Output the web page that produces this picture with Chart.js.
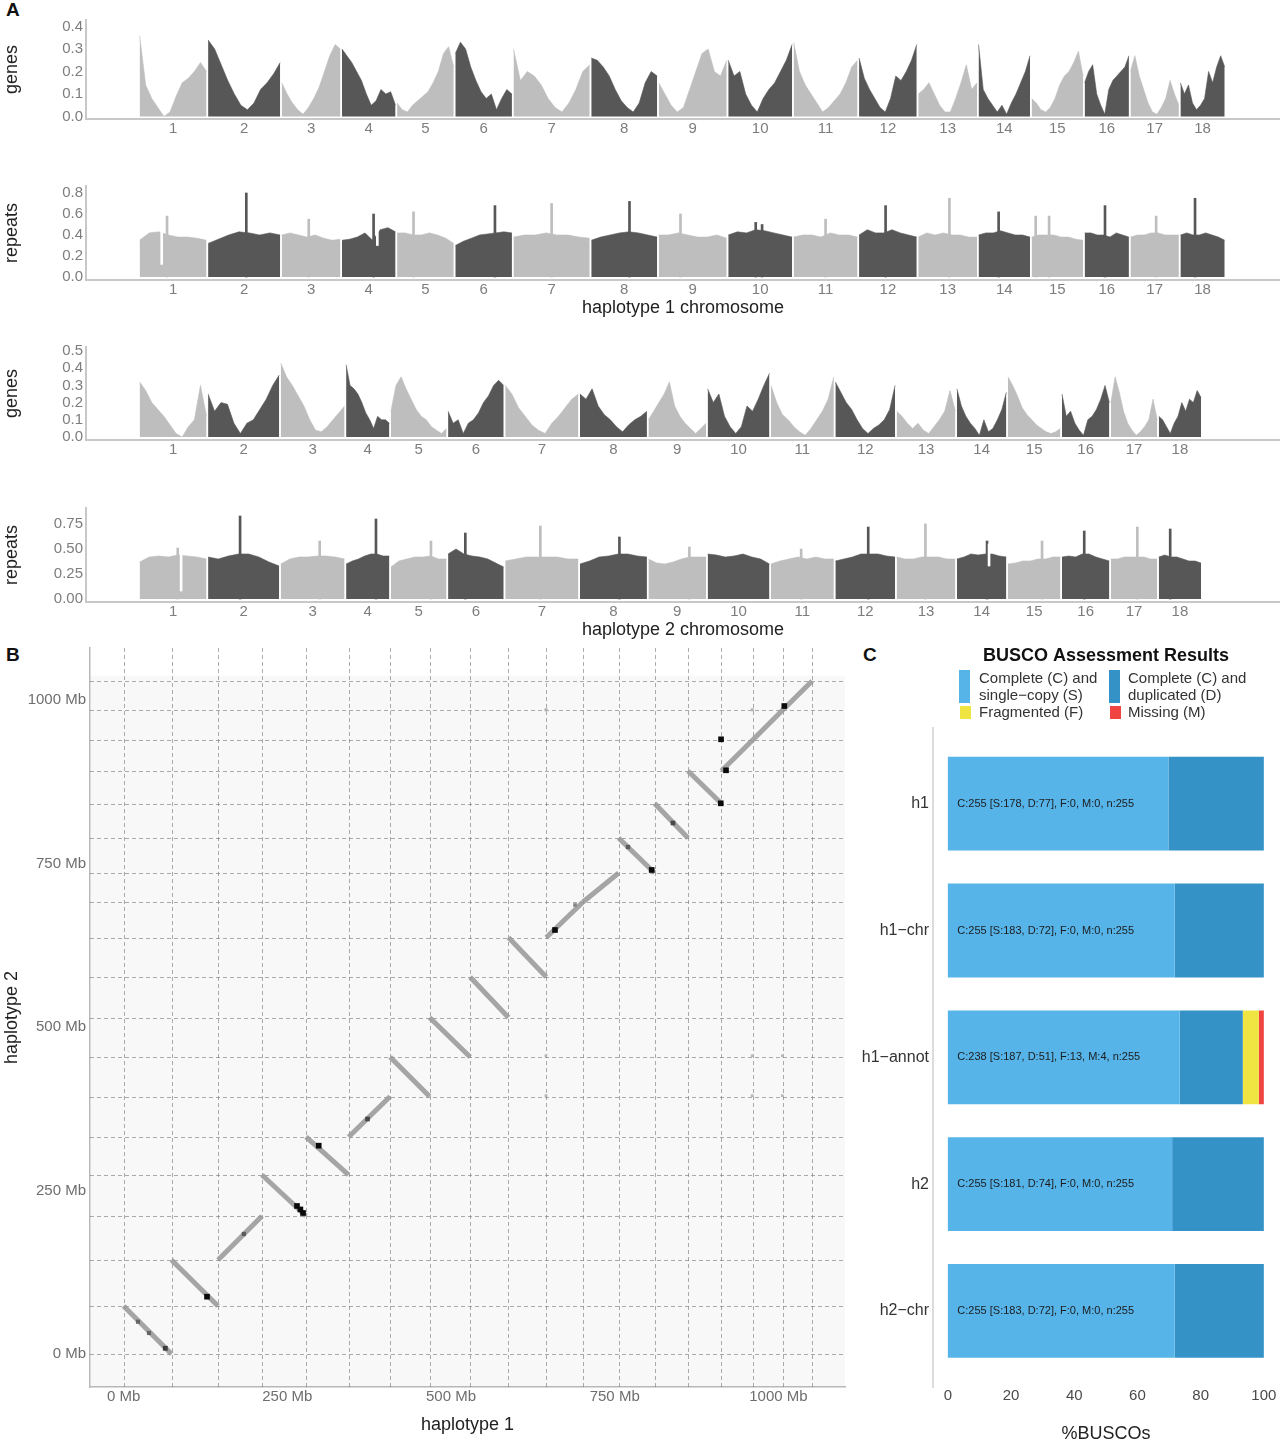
<!DOCTYPE html>
<html>
<head>
<meta charset="utf-8">
<title>Haplotype genome figure</title>
<script src="https://cdn.jsdelivr.net/npm/chart.js@4.4.1/dist/chart.umd.min.js"></script>
<style>
  html, body { margin:0; padding:0; background:#ffffff; }
  body { position:relative; width:1280px; height:1442px; overflow:hidden; font-family:"Liberation Sans", Arial, Helvetica, sans-serif; }
  canvas { position:absolute; }
  .plabel { position:absolute; font-weight:bold; font-size:19px; color:#111; line-height:19px; }
  .lg { position:absolute; font-size:15px; line-height:17px; color:#333; white-space:nowrap; }
  .key { position:absolute; }
</style>
</head>
<body>
<div class="plabel" style="left:6px;top:0px">A</div>
<div class="plabel" style="left:6px;top:645px">B</div>
<div class="plabel" style="left:863px;top:645px">C</div>

<canvas id="t1" width="1280" height="137" style="left:0;top:6px"></canvas>
<canvas id="t2" width="1280" height="152" style="left:0;top:172px"></canvas>
<canvas id="t3" width="1280" height="131" style="left:0;top:333px"></canvas>
<canvas id="t4" width="1280" height="152" style="left:0;top:494px"></canvas>
<canvas id="dot" width="850" height="808" style="left:0;top:634px"></canvas>
<canvas id="busco" width="430" height="810" style="left:850px;top:640px"></canvas>

<div class="key" style="left:959px;top:670px;width:11px;height:33px;background:#56B4E9"></div>
<div class="lg" style="left:979px;top:669px">Complete (C) and<br>single−copy (S)</div>
<div class="key" style="left:1109px;top:670px;width:11px;height:33px;background:#3492C7"></div>
<div class="lg" style="left:1128px;top:669px">Complete (C) and<br>duplicated (D)</div>
<div class="key" style="left:960px;top:706px;width:11px;height:13px;background:#F0E442"></div>
<div class="lg" style="left:979px;top:703px">Fragmented (F)</div>
<div class="key" style="left:1110px;top:706px;width:11px;height:13px;background:#F04442"></div>
<div class="lg" style="left:1128px;top:703px">Missing (M)</div>

<script>
// ===================== DATA =====================
const chromNames = ['1','2','3','4','5','6','7','8','9','10','11','12','13','14','15','16','17','18'];

// chromosome lengths (Mb) as laid out in panel A
const h1ChromLen = [65,70,57,52,55,55,74,64,66,62,62,56,57,50,50,43,47,43];
const h2ChromLen = [65,69,62,42,54,54,71,65,56,60,61,58,57,48,51,46,45,41];

// gene density, haplotype 1 (evenly spaced windows along each chromosome)
const genesH1 = [
  [0.36,0.14,0.08,0.04,0.00,0.02,0.09,0.15,0.17,0.20,0.24,0.20],
  [0.34,0.30,0.23,0.16,0.10,0.05,0.03,0.06,0.12,0.15,0.19,0.24],
  [0.15,0.10,0.06,0.03,0.01,0.04,0.08,0.13,0.20,0.27,0.32,0.30],
  [0.30,0.27,0.24,0.20,0.16,0.10,0.05,0.07,0.12,0.10,0.11,0.05],
  [0.06,0.03,0.02,0.05,0.07,0.09,0.11,0.15,0.20,0.28,0.31,0.22],
  [0.28,0.33,0.30,0.22,0.16,0.11,0.08,0.10,0.03,0.08,0.12,0.10],
  [0.30,0.16,0.20,0.18,0.14,0.08,0.04,0.02,0.06,0.12,0.20,0.23],
  [0.26,0.25,0.22,0.18,0.12,0.07,0.04,0.02,0.06,0.15,0.20,0.18],
  [0.15,0.10,0.05,0.02,0.04,0.12,0.20,0.28,0.30,0.20,0.18,0.25],
  [0.25,0.18,0.20,0.10,0.05,0.02,0.08,0.12,0.15,0.20,0.25,0.32],
  [0.33,0.20,0.14,0.10,0.06,0.02,0.04,0.07,0.10,0.15,0.22,0.25],
  [0.26,0.17,0.12,0.08,0.04,0.02,0.08,0.18,0.16,0.20,0.25,0.32],
  [0.10,0.12,0.15,0.10,0.05,0.02,0.02,0.08,0.15,0.23,0.12,0.15],
  [0.32,0.12,0.08,0.05,0.02,0.05,0.01,0.06,0.10,0.15,0.20,0.27],
  [0.08,0.06,0.03,0.02,0.04,0.08,0.14,0.18,0.20,0.24,0.29,0.18],
  [0.15,0.20,0.23,0.10,0.05,0.01,0.12,0.16,0.18,0.20,0.22,0.27],
  [0.20,0.27,0.18,0.12,0.06,0.02,0.01,0.04,0.08,0.16,0.10,0.05],
  [0.15,0.10,0.14,0.06,0.03,0.05,0.08,0.20,0.15,0.22,0.27,0.22]
];

// gene density, haplotype 2
const genesH2 = [
  [0.32,0.27,0.20,0.16,0.12,0.07,0.02,0.00,0.06,0.10,0.30,0.12],
  [0.25,0.15,0.20,0.19,0.08,0.02,0.08,0.10,0.16,0.22,0.30,0.36],
  [0.43,0.35,0.30,0.24,0.18,0.10,0.04,0.03,0.06,0.10,0.14,0.18],
  [0.42,0.30,0.28,0.25,0.20,0.14,0.10,0.05,0.12,0.10,0.10,0.08],
  [0.15,0.30,0.35,0.28,0.22,0.16,0.12,0.10,0.06,0.04,0.02,0.05],
  [0.15,0.08,0.10,0.02,0.08,0.10,0.14,0.20,0.24,0.30,0.33,0.30],
  [0.30,0.25,0.17,0.12,0.07,0.04,0.02,0.08,0.12,0.17,0.22,0.25],
  [0.25,0.22,0.28,0.18,0.13,0.10,0.06,0.03,0.07,0.10,0.12,0.15],
  [0.10,0.15,0.20,0.25,0.32,0.18,0.12,0.08,0.05,0.02,0.05,0.08],
  [0.28,0.20,0.25,0.12,0.06,0.02,0.06,0.18,0.15,0.22,0.30,0.37],
  [0.30,0.20,0.13,0.10,0.06,0.03,0.01,0.05,0.10,0.15,0.22,0.35],
  [0.32,0.26,0.20,0.16,0.10,0.05,0.02,0.05,0.07,0.10,0.16,0.30],
  [0.15,0.12,0.08,0.05,0.08,0.04,0.02,0.06,0.10,0.15,0.27,0.15],
  [0.28,0.18,0.12,0.08,0.05,0.01,0.10,0.03,0.05,0.10,0.16,0.26],
  [0.35,0.30,0.24,0.17,0.13,0.10,0.07,0.05,0.03,0.02,0.03,0.05],
  [0.25,0.12,0.15,0.08,0.04,0.01,0.10,0.12,0.16,0.22,0.30,0.20],
  [0.20,0.35,0.26,0.15,0.08,0.04,0.01,0.03,0.06,0.10,0.22,0.10],
  [0.12,0.10,0.06,0.02,0.08,0.12,0.20,0.15,0.22,0.20,0.27,0.23]
];

// repeat density, haplotype 1 (background level)
const repeatsH1 = [
  [0.35,0.42,0.43,0.40,0.38,0.38,0.37,0.35],
  [0.32,0.36,0.40,0.43,0.42,0.40,0.42,0.40],
  [0.40,0.42,0.40,0.38,0.40,0.37,0.35,0.36],
  [0.35,0.36,0.38,0.42,0.35,0.45,0.47,0.43],
  [0.42,0.42,0.40,0.40,0.42,0.40,0.37,0.32],
  [0.30,0.34,0.37,0.40,0.41,0.42,0.43,0.42],
  [0.38,0.40,0.40,0.42,0.40,0.40,0.38,0.37],
  [0.35,0.38,0.40,0.42,0.43,0.42,0.40,0.38],
  [0.40,0.40,0.42,0.40,0.38,0.38,0.40,0.37],
  [0.40,0.43,0.42,0.45,0.44,0.42,0.40,0.38],
  [0.38,0.40,0.40,0.38,0.42,0.40,0.40,0.38],
  [0.40,0.45,0.42,0.42,0.45,0.42,0.40,0.38],
  [0.38,0.42,0.40,0.42,0.40,0.40,0.38,0.38],
  [0.40,0.42,0.42,0.44,0.42,0.40,0.40,0.38],
  [0.38,0.40,0.40,0.40,0.38,0.38,0.36,0.35],
  [0.42,0.42,0.40,0.40,0.38,0.42,0.40,0.38],
  [0.38,0.40,0.40,0.42,0.42,0.40,0.40,0.40],
  [0.40,0.42,0.40,0.40,0.42,0.40,0.38,0.35]
];
// repeat peaks: [chromosome index, relative position, value]
const repeatPeaksH1 = [[0,0.41,0.58],[1,0.53,0.80],[2,0.46,0.55],[3,0.59,0.60],[4,0.29,0.62],[5,0.70,0.68],[6,0.50,0.70],[7,0.58,0.72],[8,0.32,0.60],[9,0.43,0.52],[9,0.53,0.50],[10,0.50,0.55],[11,0.46,0.68],[12,0.53,0.75],[13,0.39,0.62],[14,0.08,0.58],[14,0.34,0.58],[15,0.46,0.68],[16,0.53,0.58],[17,0.33,0.75]];
// repeat troughs: [chromosome index, relative position, value]
const repeatTroughsH1 = [[0,0.33,0.12],[3,0.66,0.30]];

// repeat density, haplotype 2 (background level)
const repeatsH2 = [
  [0.37,0.42,0.43,0.42,0.44,0.43,0.42,0.40],
  [0.42,0.40,0.43,0.45,0.45,0.42,0.37,0.33],
  [0.35,0.40,0.42,0.42,0.43,0.43,0.42,0.40],
  [0.35,0.38,0.40,0.43,0.45,0.45,0.43,0.43],
  [0.32,0.38,0.40,0.42,0.42,0.43,0.40,0.40],
  [0.45,0.50,0.45,0.43,0.42,0.40,0.36,0.32],
  [0.38,0.40,0.42,0.42,0.42,0.42,0.40,0.40],
  [0.35,0.38,0.42,0.43,0.45,0.45,0.43,0.42],
  [0.40,0.36,0.35,0.37,0.40,0.42,0.42,0.42],
  [0.45,0.44,0.42,0.43,0.45,0.42,0.40,0.35],
  [0.35,0.38,0.40,0.42,0.40,0.42,0.40,0.40],
  [0.38,0.40,0.42,0.45,0.45,0.45,0.43,0.42],
  [0.42,0.40,0.40,0.42,0.42,0.42,0.40,0.40],
  [0.40,0.42,0.45,0.44,0.45,0.45,0.43,0.42],
  [0.35,0.36,0.38,0.38,0.40,0.40,0.42,0.42],
  [0.42,0.43,0.42,0.45,0.45,0.42,0.40,0.38],
  [0.40,0.40,0.42,0.42,0.42,0.42,0.40,0.40],
  [0.42,0.44,0.42,0.42,0.40,0.38,0.38,0.36]
];
const repeatPeaksH2 = [[0,0.57,0.51],[1,0.45,0.83],[2,0.61,0.58],[3,0.69,0.80],[4,0.72,0.58],[5,0.31,0.66],[6,0.48,0.73],[7,0.59,0.62],[8,0.71,0.52],[10,0.48,0.50],[11,0.55,0.72],[12,0.49,0.75],[13,0.61,0.58],[14,0.65,0.58],[15,0.47,0.68],[16,0.57,0.72],[17,0.27,0.70]];
const repeatTroughsH2 = [[0,0.62,0.08],[13,0.65,0.33]];

// y tick values of the four density tracks
const ticksGenesH1 = [0,0.1,0.2,0.3,0.4];
const ticksRepeatsH1 = [0,0.2,0.4,0.6,0.8];
const ticksGenesH2 = [0,0.1,0.2,0.3,0.4,0.5];
const ticksRepeatsH2 = [0,0.25,0.5,0.75];

// dot plot: chromosome lengths (Mb) and alignment orientation
const dotH1Len = [73.2,71,67.2,67.2,65,63.4,60.3,61.9,58.6,57.7,56.1,54.4,55,51,50.9,47.8,45.9,44.9];
const dotH2Len = [73.4,70.3,67.3,62.7,58.1,61.9,60.4,60.4,61.9,60.4,54.3,44.3,53.5,52.8,49.7,47.4,45.9,44.3];
const dotOrient = [-1,-1,1,-1,-1,1,-1,-1,-1,-1,1,1,-1,-1,-1,1,1,1];
// dense alignment spots: [h1 Mb, h2 Mb, intensity 0..1]
const dotSpots = [
  [22.0,49.4,0.55],[38.8,32.1,0.55],[63.7,8.7,0.75],[127.4,87.6,1],[183.7,183.5,0.6],
  [264.8,226.3,1],[270,221,1],[274.0,215.6,1],[298.0,318.5,1],[372.5,359.3,0.7],
  [658.8,648.3,1],[689.4,686.5,0.4],[770.3,775.2,0.6],[806.5,740.1,1],[839.0,811.9,0.7],
  [912.0,842.0,1],[920.0,892.5,1],[912.4,939.9,1],[1009.0,990.8,1],
  [645,985,0.2],[960,985,0.2],[645,456,0.15],[645,395,0.15],[960,456,0.15],[960,395,0.15],[1006,456,0.15],[1006,395,0.15]
];
const dotTicks = [0,250,500,750,1000];

// BUSCO
const buscoLabels = ['h1','h1−chr','h1−annot','h2','h2−chr'];
const buscoS = [178,183,187,181,183];
const buscoD = [77,72,51,74,72];
const buscoF = [0,0,13,0,0];
const buscoM = [0,0,4,0,0];
const buscoN = [255,255,255,255,255];
const buscoXTicks = [0,20,40,60,80,100];

// ===================== DRAWING =====================
Chart.defaults.font.family = '"Liberation Sans", Arial, Helvetica, sans-serif';
Chart.defaults.animation = false;

const LIGHT = '#bebebe', DARK = '#575757';
const CHROM_GAP = 1.5;
const X_MIN = -52.04, X_MAX = 1107.18;

function trackChart(id, o) {
  const lens = o.lens;
  const starts = [];
  let acc = 0;
  lens.forEach(L => { starts.push(acc); acc += L + CHROM_GAP; });
  const colorOf = i => (i % 2 === 0 ? LIGHT : DARK);
  const datasets = o.values.map((vals, i) => ({
    type: 'line',
    data: vals.map((v, j) => ({ x: starts[i] + lens[i] * j / (vals.length - 1), y: v })),
    fill: 'origin', backgroundColor: colorOf(i), borderColor: colorOf(i), borderWidth: 0.6,
    pointRadius: 0, tension: 0, order: 3
  }));
  if (o.peaks) {
    datasets.push({
      type: 'bar', grouped: false,
      data: o.peaks.map(s => ({ x: starts[s[0]] + lens[s[0]] * s[1], y: s[2] })),
      backgroundColor: o.peaks.map(s => colorOf(s[0])),
      barThickness: 2, order: 2
    });
  }
  if (o.troughs) {
    datasets.push({
      type: 'bar', grouped: false,
      data: o.troughs.map(s => ({ x: starts[s[0]] + lens[s[0]] * s[1], y: [s[2], 0.55] })),
      backgroundColor: '#ffffff',
      barThickness: 2, order: 1
    });
  }
  return new Chart(document.getElementById(id), {
    type: 'line',
    data: { datasets },
    options: {
      responsive: false, animation: false, devicePixelRatio: 1, events: [],
      layout: { padding: { top: 14, left: 0, right: 0, bottom: 0 } },
      plugins: { legend: { display: false }, tooltip: { enabled: false } },
      scales: {
        x: {
          type: 'linear', min: X_MIN, max: X_MAX, offset: false,
          afterBuildTicks: s => { s.ticks = lens.map((L, i) => ({ value: starts[i] + L / 2 })); },
          ticks: { autoSkip: false, maxRotation: 0, padding: 1, color: '#7d7d7d', font: { size: 15 },
                   callback: (v, i) => chromNames[i] },
          grid: { display: false, drawTicks: false },
          border: { display: true, color: '#c8c8c8', width: 2 },
          title: { display: !!o.xTitle, text: o.xTitle || '', color: '#222', font: { size: 18 }, padding: { top: 0, bottom: 5 } },
          afterFit: s => { s.height = o.xh; }
        },
        y: {
          type: 'linear', min: o.ymin, max: o.ymax,
          afterBuildTicks: s => { s.ticks = o.yTicks.map(v => ({ value: v })); },
          ticks: { autoSkip: false, padding: 3, color: '#7d7d7d', font: { size: 15 }, callback: v => v.toFixed(o.dec) },
          grid: { display: false, drawTicks: false },
          border: { display: true, color: '#c8c8c8', width: 2 },
          title: { display: true, text: o.yTitle, color: '#222', font: { size: 18 }, padding: { top: 1, bottom: 0 } },
          afterFit: s => { s.width = 86; }
        }
      }
    }
  });
}

trackChart('t1', { lens: h1ChromLen, values: genesH1, yTicks: ticksGenesH1, dec: 1, ymin: -0.0111, ymax: 0.4289, yTitle: 'genes', xh: 24 });
trackChart('t2', { lens: h1ChromLen, values: repeatsH1, peaks: repeatPeaksH1, troughs: repeatTroughsH1, yTicks: ticksRepeatsH1, dec: 1, ymin: -0.0286, ymax: 0.8667, yTitle: 'repeats', xh: 44, xTitle: 'haplotype 1 chromosome' });
trackChart('t3', { lens: h2ChromLen, values: genesH2, yTicks: ticksGenesH2, dec: 1, ymin: -0.0174, ymax: 0.5233, yTitle: 'genes', xh: 24 });
trackChart('t4', { lens: h2ChromLen, values: repeatsH2, peaks: repeatPeaksH2, troughs: repeatTroughsH2, yTicks: ticksRepeatsH2, dec: 2, ymin: -0.03, ymax: 0.91, yTitle: 'repeats', xh: 44, xTitle: 'haplotype 2 chromosome' });

// ---------- Panel B: dot plot ----------
(function () {
  const cum = arr => { const out = [0]; arr.forEach(v => out.push(out[out.length - 1] + v)); return out; };
  const bx = cum(dotH1Len), by = cum(dotH2Len);
  const datasets = dotH1Len.map((L, i) => {
    const x0 = bx[i], x1 = bx[i + 1], y0 = by[i], y1 = by[i + 1];
    const pts = dotOrient[i] > 0 ? [{ x: x0, y: y0 }, { x: x1, y: y1 }] : [{ x: x0, y: y1 }, { x: x1, y: y0 }];
    return { type: 'line', data: pts, showLine: true, borderColor: 'rgba(150,150,150,0.85)', borderWidth: 5,
             borderCapStyle: 'butt', pointRadius: 0, fill: false, order: 2 };
  });
  const shade = t => { const g = Math.round(215 - 205 * t); return `rgb(${g},${g},${g})`; };
  datasets.push({
    type: 'scatter',
    data: dotSpots.map(s => ({ x: s[0], y: s[1] })),
    pointStyle: 'rect',
    pointRadius: dotSpots.map(s => 1.6 + 2.4 * s[2]),
    backgroundColor: dotSpots.map(s => shade(s[2])),
    borderWidth: 0, order: 1
  });
  const gridPlugin = {
    id: 'chromGrid',
    beforeDraw(chart) {
      const { ctx, chartArea: a, scales: { y } } = chart;
      ctx.save();
      ctx.fillStyle = '#f8f8f8';
      const ty = y.getPixelForValue(by[by.length - 1] + 8);
      ctx.fillRect(a.left + 1, ty, a.right - a.left - 1, a.bottom - ty - 1);
      ctx.restore();
    },
    beforeDatasetsDraw(chart) {
      const { ctx, chartArea: a, scales: { x, y } } = chart;
      ctx.save();
      ctx.setLineDash([4, 3]);
      ctx.strokeStyle = 'rgba(105,105,105,0.55)';
      ctx.lineWidth = 1;
      bx.forEach(v => {
        const px = Math.round(x.getPixelForValue(v)) + 0.5;
        ctx.beginPath(); ctx.moveTo(px, a.top); ctx.lineTo(px, a.bottom); ctx.stroke();
      });
      by.forEach(v => {
        const py = Math.round(y.getPixelForValue(v)) + 0.5;
        ctx.beginPath(); ctx.moveTo(a.left, py); ctx.lineTo(a.right, py); ctx.stroke();
      });
      ctx.restore();
    }
  };
  new Chart(document.getElementById('dot'), {
    type: 'scatter',
    data: { datasets },
    options: {
      responsive: false, animation: false, devicePixelRatio: 1, events: [],
      layout: { padding: { top: 14, right: 5, left: 0, bottom: 0 } },
      plugins: { legend: { display: false }, tooltip: { enabled: false } },
      scales: {
        x: {
          type: 'linear', min: -51.3, max: 1101.7,
          afterBuildTicks: s => { s.ticks = dotTicks.map(v => ({ value: v })); },
          ticks: { autoSkip: false, padding: 1, color: '#6e6e6e', font: { size: 15 }, callback: v => v + ' Mb', maxRotation: 0 },
          grid: { display: false, drawTicks: false },
          border: { display: true, color: '#b8b8b8', width: 1.5 },
          title: { display: true, text: 'haplotype 1', color: '#222', font: { size: 18 }, padding: { top: 0, bottom: 6 } },
          afterFit: s => { s.height = 55; }
        },
        y: {
          type: 'linear', min: -50.5, max: 1079.5,
          afterBuildTicks: s => { s.ticks = dotTicks.map(v => ({ value: v })); },
          ticks: { autoSkip: false, padding: 4, color: '#6e6e6e', font: { size: 15 }, callback: v => v + ' Mb' },
          grid: { display: false, drawTicks: false },
          border: { display: true, color: '#b8b8b8', width: 1.5 },
          title: { display: true, text: 'haplotype 2', color: '#222', font: { size: 18 }, padding: { top: 1, bottom: 0 } },
          afterFit: s => { s.width = 90; }
        }
      }
    },
    plugins: [gridPlugin]
  });
})();

// ---------- Panel C: BUSCO ----------
(function () {
  const pct = arr => arr.map((v, i) => ({ x: v / buscoN[i] * 100, y: i + 1 }));
  const textPlugin = {
    id: 'buscoText',
    afterDatasetsDraw(chart) {
      const { ctx, scales: { x, y } } = chart;
      ctx.save();
      ctx.font = '11px "Liberation Sans", Arial, sans-serif';
      ctx.fillStyle = '#1c1c1c';
      ctx.textBaseline = 'middle';
      ctx.textAlign = 'left';
      buscoLabels.forEach((_, i) => {
        const t = `C:${buscoS[i] + buscoD[i]} [S:${buscoS[i]}, D:${buscoD[i]}], F:${buscoF[i]}, M:${buscoM[i]}, n:${buscoN[i]}`;
        ctx.fillText(t, x.getPixelForValue(3), y.getPixelForValue(i + 1));
      });
      ctx.restore();
    }
  };
  new Chart(document.getElementById('busco'), {
    type: 'bar',
    data: {
      datasets: [
        { label: 'Complete (C) and single-copy (S)', data: pct(buscoS), backgroundColor: '#56B4E9' },
        { label: 'Complete (C) and duplicated (D)', data: pct(buscoD), backgroundColor: '#3492C7' },
        { label: 'Fragmented (F)', data: pct(buscoF), backgroundColor: '#F0E442' },
        { label: 'Missing (M)', data: pct(buscoM), backgroundColor: '#F04442' }
      ]
    },
    options: {
      indexAxis: 'y', responsive: false, animation: false, devicePixelRatio: 1, events: [],
      datasets: { bar: { barPercentage: 0.74, categoryPercentage: 1, borderWidth: 0 } },
      layout: { padding: { top: 0, right: 1, left: 0, bottom: 0 } },
      plugins: {
        legend: { display: false }, tooltip: { enabled: false },
        title: { display: true, text: 'BUSCO Assessment Results', fullSize: false, color: '#111',
                 font: { size: 18, weight: 'bold' }, padding: { top: 5, bottom: 61 } }
      },
      scales: {
        x: {
          type: 'linear', min: -4.7, max: 104.8, stacked: true,
          afterBuildTicks: s => { s.ticks = buscoXTicks.map(v => ({ value: v })); },
          ticks: { autoSkip: false, color: '#4a4a4a', font: { size: 15 }, padding: 0 },
          grid: { display: false, drawTicks: false },
          border: { display: false },
          title: { display: true, text: '%BUSCOs', color: '#222', font: { size: 18 }, padding: { top: 0, bottom: 5 } },
          afterFit: s => { s.height = 63; }
        },
        y: {
          type: 'linear', min: 0.4, max: 5.6, reverse: true, stacked: true, offset: false,
          afterBuildTicks: s => { s.ticks = buscoLabels.map((_, i) => ({ value: i + 1 })); },
          ticks: { autoSkip: false, color: '#333', font: { size: 16 }, padding: 4, callback: v => buscoLabels[Math.round(v) - 1] },
          grid: { display: false, drawTicks: false, offset: false },
          border: { display: true, color: '#dcdcdc', width: 2 },
          afterFit: s => { s.width = 83; }
        }
      }
    },
    plugins: [textPlugin]
  });
})();
</script>
</body>
</html>
